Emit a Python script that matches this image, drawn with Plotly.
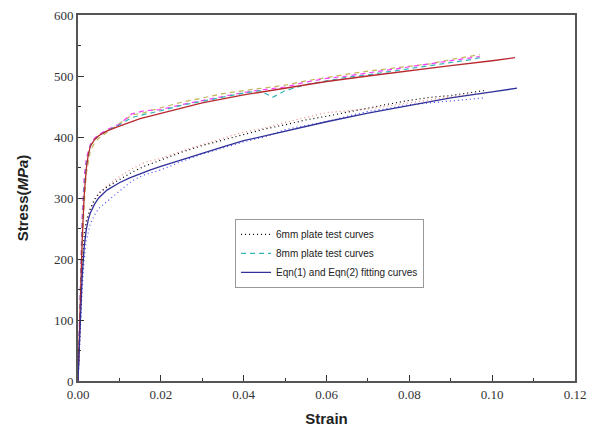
import plotly.graph_objects as go

# --- 6 mm plate: measured stress-strain curves (MPa) ---
strain_6mm = [0, 0.0005, 0.001, 0.0015, 0.002, 0.003, 0.004, 0.005, 0.007, 0.01,
              0.013, 0.016, 0.02, 0.025, 0.03, 0.035, 0.04, 0.045, 0.05, 0.055,
              0.06, 0.065, 0.07, 0.075, 0.08, 0.085, 0.09, 0.095, 0.098]
stress_6mm_a = [0, 110, 190, 240, 262, 283, 298, 308, 318, 330, 342, 352, 362, 375, 386,
                395, 404, 413, 420, 428, 434, 441, 448, 454, 460, 465, 468, 473, 476]
stress_6mm_b = [0, 85, 150, 200, 230, 258, 272, 283, 294, 312, 328, 338, 346, 360, 372,
                382, 392, 400, 412, 419, 425, 434, 442, 447, 453, 456, 459, 462, 464]
stress_6mm_c = [0, 100, 180, 232, 258, 282, 296, 306, 320, 335, 348, 358, 365, 377, 388,
                398, 408, 415, 424, 432, 440, 443, 446, 451, 456, 462, 466, 470, 472]

# --- 8 mm plate: measured stress-strain curves (MPa) ---
strain_8mm = [0, 0.0005, 0.001, 0.0015, 0.002, 0.003, 0.004, 0.005, 0.007, 0.01,
              0.013, 0.016, 0.02, 0.025, 0.03, 0.035, 0.04, 0.044, 0.047, 0.05,
              0.055, 0.06, 0.065, 0.07, 0.075, 0.08, 0.085, 0.09, 0.095, 0.097]
stress_8mm_a = [0, 140, 250, 320, 356, 386, 396, 402, 410, 420, 432, 437, 443, 452, 459,
                466, 472, 476, 465, 476, 486, 492, 498, 502, 507, 511, 516, 521, 527, 530]
stress_8mm_b = [0, 160, 270, 335, 365, 388, 398, 404, 412, 421, 438, 443, 445, 453, 460,
                467, 473, 477, 479, 482, 490, 496, 500, 505, 509, 514, 519, 524, 530, 532]
stress_8mm_c = [0, 110, 210, 290, 340, 378, 390, 398, 408, 422, 436, 440, 448, 457, 464,
                471, 476, 480, 482, 485, 492, 498, 503, 508, 512, 515, 520, 527, 533, 535]

# --- Eqn(1) / Eqn(2) fitted curves ---
fit_strain_8mm = [0, 0.0005, 0.001, 0.0015, 0.002, 0.0025, 0.003, 0.004, 0.005, 0.007,
                  0.01, 0.015, 0.02, 0.025, 0.03, 0.04, 0.05, 0.06, 0.07, 0.08, 0.09,
                  0.1, 0.1055]
fit_stress_8mm = [0, 120, 230, 305, 348, 372, 385, 396, 402, 410,
                  418, 430, 439, 448, 456, 469, 480, 491, 500, 509, 517, 525, 530]
fit_strain_6mm = [0, 0.0005, 0.001, 0.0015, 0.002, 0.0025, 0.003, 0.004, 0.005, 0.007,
                  0.01, 0.0125, 0.015, 0.0175, 0.02, 0.025, 0.03, 0.035, 0.04, 0.05,
                  0.06, 0.07, 0.08, 0.09, 0.1, 0.106]
fit_stress_6mm = [0, 95, 170, 220, 248, 265, 276, 290, 300, 313,
                  325, 333, 340, 346, 352, 363, 374, 384, 394, 410,
                  425, 439, 452, 464, 474, 480]

DOT = "1px,3px"
DASH = "5px,4px"
SERIF = "Liberation Serif, Times New Roman, serif"
SANS = "Liberation Sans, Arial, sans-serif"

fig = go.Figure()

# 6 mm test curves (dotted)
for ys, col, show in [(stress_6mm_c, "#f08a80", False),
                      (stress_6mm_b, "#4a4aff", False),
                      (stress_6mm_a, "#000000", True)]:
    fig.add_trace(go.Scatter(x=strain_6mm, y=ys, mode="lines",
                             line=dict(color=col, width=1.2, dash=DOT),
                             name="6mm plate test curves", showlegend=show,
                             legendrank=1))

# 8 mm test curves (dashed)
for ys, col, show in [(stress_8mm_c, "#c2b45a", False),
                      (stress_8mm_b, "#ff3cff", False),
                      (stress_8mm_a, "#33b3b3", True)]:
    fig.add_trace(go.Scatter(x=strain_8mm, y=ys, mode="lines",
                             line=dict(color=col, width=1.2, dash=DASH),
                             name="8mm plate test curves", showlegend=show,
                             legendrank=2))

# fitted curves (solid)
fig.add_trace(go.Scatter(x=fit_strain_8mm, y=fit_stress_8mm, mode="lines",
                         line=dict(color="#b8282e", width=1.3),
                         name="8mm fit", showlegend=False))
fig.add_trace(go.Scatter(x=fit_strain_6mm, y=fit_stress_6mm, mode="lines",
                         line=dict(color="#30309a", width=1.3),
                         name="Eqn(1) and Eqn(2) fitting curves", showlegend=True,
                         legendrank=3))

axis_common = dict(showline=True, mirror=True, linecolor="#555555", linewidth=2,
                   ticks="inside", tickcolor="#333333", tickwidth=1.2, ticklen=6,
                   showgrid=False, zeroline=False, automargin=False,
                   tickfont=dict(family=SERIF, size=13, color="#333333"))

fig.update_xaxes(range=[0, 0.12], dtick=0.02, tick0=0, tickformat=".2f",
                 minor=dict(dtick=0.01, ticks="inside", ticklen=3, tickcolor="#333333"),
                 title=dict(text="<b>Strain</b>", standoff=13,
                            font=dict(family=SANS, size=15, color="#222222")),
                 **axis_common)
fig.update_yaxes(range=[0, 600], dtick=100, tick0=0,
                 minor=dict(dtick=50, ticks="inside", ticklen=3, tickcolor="#333333"),
                 title=dict(text="<b>Stress(<i>MPa</i>)</b>", standoff=22,
                            font=dict(family=SANS, size=15, color="#222222")),
                 **axis_common)

fig.update_layout(
    width=590, height=434,
    margin=dict(l=78, r=15, t=15, b=53),
    paper_bgcolor="white", plot_bgcolor="white",
    legend=dict(x=0.316, y=0.443, xanchor="left", yanchor="top",
                bgcolor="white", bordercolor="#999999", borderwidth=1,
                font=dict(family=SANS, size=10, color="#222222"),
                tracegroupgap=0),
)

fig.write_html("out.html")
